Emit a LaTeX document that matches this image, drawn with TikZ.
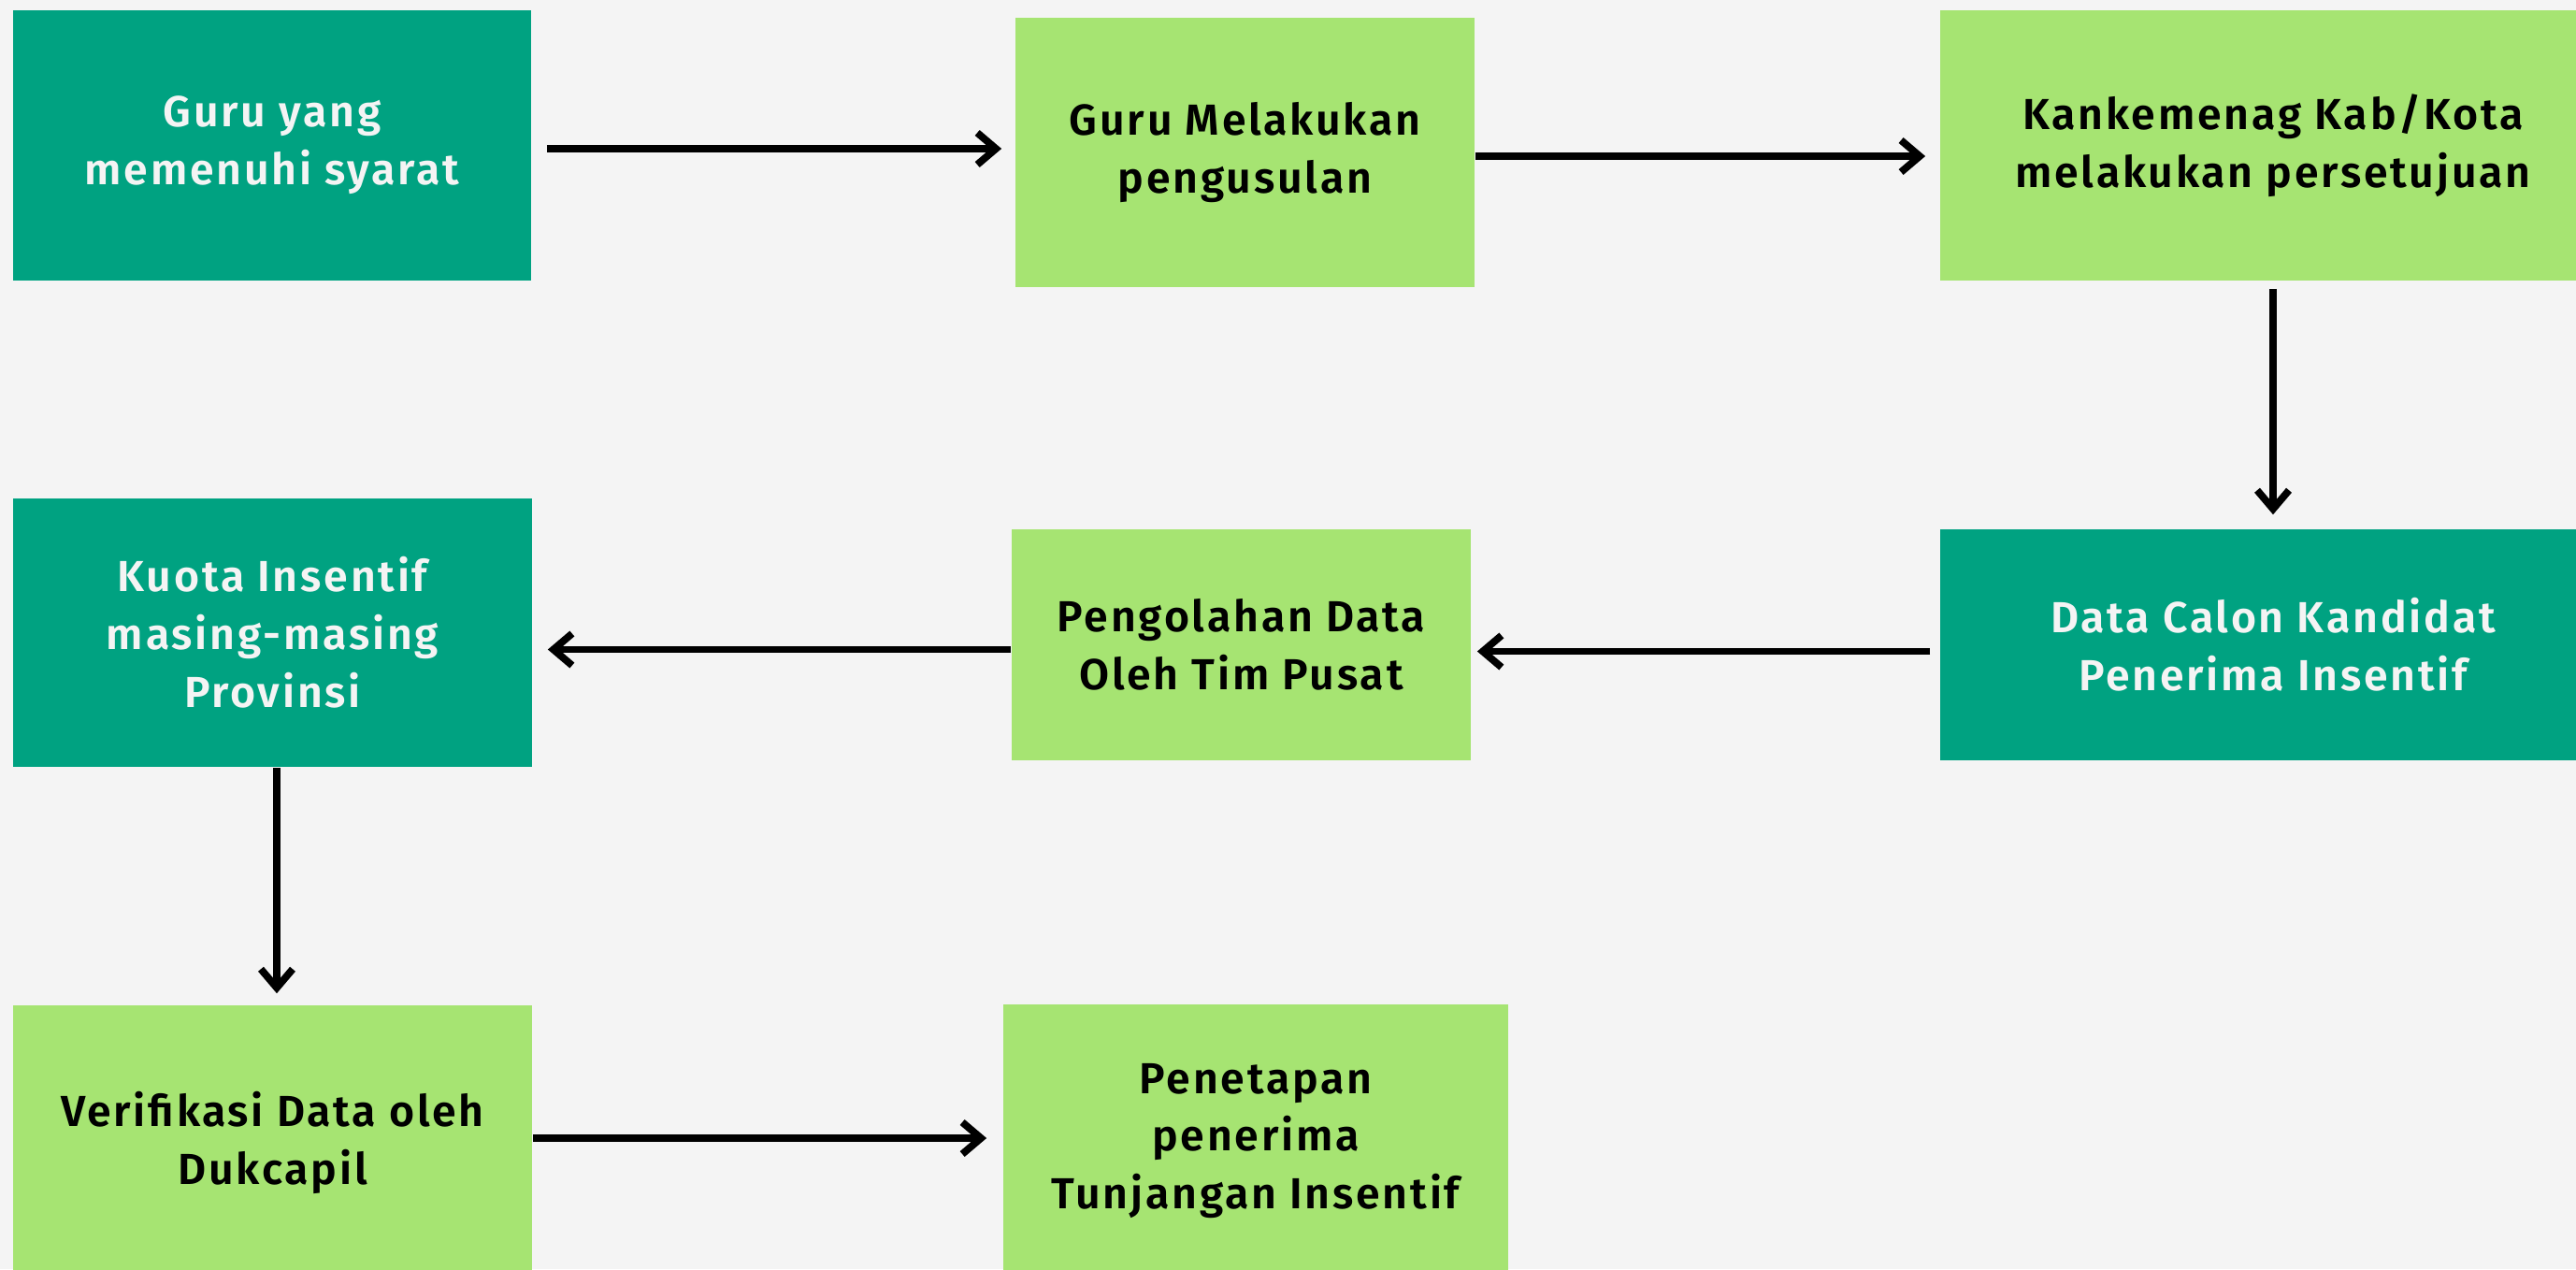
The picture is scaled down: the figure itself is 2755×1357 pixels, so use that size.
\documentclass[tikz,border=0pt]{standalone}
\usepackage{fontspec}
\setmainfont{Fira Sans}[BoldFont={Fira Sans SemiBold}, BoldFeatures={LetterSpace=6}]
\usepackage{tikz}
\usetikzlibrary{arrows.meta,calc}
\definecolor{bggray}{HTML}{F4F4F4}
\definecolor{darkgreen}{HTML}{00A281}
\definecolor{lightgreen}{HTML}{A6E472}
\tikzset{
  box/.style={inner sep=0pt, align=center, font=\fontsize{13.2}{17.6}\selectfont\bfseries},
  darkbox/.style={box, fill=darkgreen, text=bggray},
  lightbox/.style={box, fill=lightgreen, text=black},
  flow/.style={line width=2.2pt, -{Straight Barb[length=0.2cm,width=0.34cm]}}
}

\begin{document}
\begin{tikzpicture}[x=0.01cm,y=-0.01cm]
\useasboundingbox (0,0) rectangle (2755,1357);
\clip (0,0) rectangle (2755,1357);
\fill[bggray] (0,0) rectangle (2755,1357);

\node[darkbox, minimum width=5.54cm, minimum height=2.89cm] (guru) at (291,155.5) {Guru yang\\memenuhi syarat};
\node[lightbox, minimum width=4.91cm, minimum height=2.88cm] (usul) at (1331.5,163) {Guru Melakukan\\pengusulan};
\node[lightbox, minimum width=7.12cm, minimum height=2.89cm] (kankemenag) at (2431,155.5) {Kankemenag Kab/Kota\\melakukan persetujuan};
\node[darkbox, minimum width=7.12cm, minimum height=2.47cm] (kandidat) at (2431,689.5) {Data Calon Kandidat\\Penerima Insentif};
\node[lightbox, minimum width=4.91cm, minimum height=2.47cm] (olah) at (1327.5,689.5) {Pengolahan Data\\Oleh Tim Pusat};
\node[darkbox, minimum width=5.55cm, minimum height=2.87cm] (kuota) at (291.5,676.5) {Kuota Insentif\\masing-masing\\Provinsi};
\node[lightbox, minimum width=5.55cm, minimum height=2.94cm] (verifikasi) at (291.5,1222) {Verifikasi Data oleh\\Dukcapil};
\node[lightbox, minimum width=5.4cm, minimum height=2.92cm] (penetapan) at (1343,1220) {Penetapan\\penerima\\Tunjangan Insentif};

\draw[flow, shorten <=0.16cm, shorten >=0.14cm] ([yshift=-0.035cm]guru.east) -- ([yshift=-0.035cm]guru.east -| usul.west);
\draw[flow, shorten >=0.15cm] ([yshift=-0.04cm]usul.east) -- ([yshift=-0.04cm]usul.east -| kankemenag.west);
\draw[flow, shorten <=0.08cm, shorten >=0.15cm] (kankemenag.south) -- (kandidat.north);
\draw[flow, shorten <=0.1cm, shorten >=0.06cm] ([yshift=-0.07cm]kandidat.west) -- ([yshift=-0.07cm]kandidat.west -| olah.east);
\draw[flow, shorten >=0.16cm] ([yshift=-0.05cm]olah.west) -- ([yshift=-0.05cm]olah.west -| kuota.east);
\draw[flow, shorten >=0.12cm] ([xshift=0.045cm]kuota.south) -- ([xshift=0.045cm]verifikasi.north);
\draw[flow, shorten >=0.17cm] ([yshift=0.05cm]verifikasi.east) -- ([yshift=0.05cm]verifikasi.east -| penetapan.west);
\end{tikzpicture}
\end{document}
